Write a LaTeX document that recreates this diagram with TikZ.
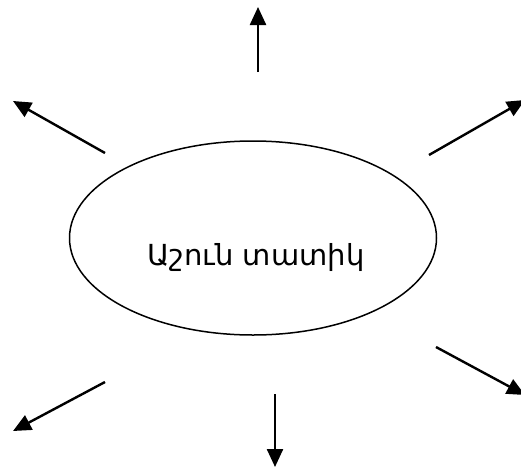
\documentclass[tikz,border=0pt]{standalone}
\usepackage{fontspec}
\newfontfamily\armfont{DejaVu Sans}
\usetikzlibrary{positioning,arrows.meta,shapes.geometric}

\begin{document}
\begin{tikzpicture}[x=1pt,y=-1pt,
    ray/.style={line width=2.4pt,-{Triangle[length=18pt,width=16pt]}},
    oval/.style={ellipse,draw,line width=1.5pt,minimum width=367pt,minimum height=194pt,inner sep=0pt}]
\useasboundingbox (0,0) rectangle (521,466);

% Ellipse and name
\node[oval] (tatik) at (253,238) {};
\node[font=\armfont\fontsize{29}{35}\selectfont] (name) at (256,257) {Աշուն տատիկ};

% Rays
\foreach \sx/\sy/\ex/\ey [count=\i] in {258/72/258/7, 105/153/13/101, 429/155/525/100,
    436/347/525/395, 105/382/13/431, 275/394/275/467} {
    \coordinate (s\i) at (\sx,\sy);
    \coordinate (e\i) at (\ex,\ey);
    \draw[ray] (s\i) -- (e\i);
}

\end{tikzpicture}
\end{document}
